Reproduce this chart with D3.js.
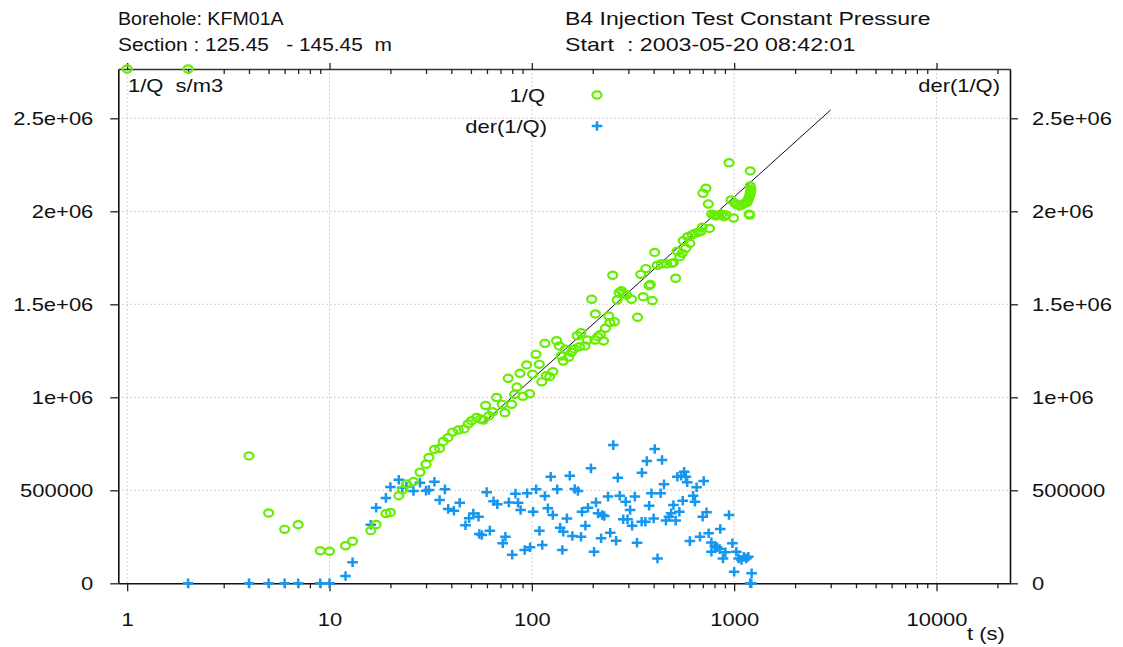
<!DOCTYPE html>
<html>
<head>
<meta charset="utf-8">
<script src="https://cdn.jsdelivr.net/npm/d3@7"></script>
<style>
  body { margin: 0; background: #fff; }
  svg { display: block; }
  text { font-family: "Liberation Sans", Arial, Helvetica, sans-serif; fill: #111; }
</style>
</head>
<body>
<svg id="chart" width="1123" height="647"></svg>
<script>
// ---- 1/Q (s/m3) versus elapsed time t (s) ----
const qTime = [1, 2, 4, 5, 6, 7, 9, 10, 12, 13, 16, 17, 19, 20, 22, 23, 24, 26, 28, 30, 31, 33, 35,
  36.5, 38.5, 40.6, 43.3, 46.3, 48.5, 50.4, 53.3, 55.8, 57.6, 59.1, 61.4, 64, 67, 71.4, 73.6, 76.4,
  79.5, 82.2, 84.4, 87.4, 90.4, 94.3, 97.5, 100.9, 104.8, 108.8, 112, 116, 118, 122.5, 127, 132.6,
  136.6, 139.7, 143, 146.4, 152, 157, 162, 167.6, 172, 175, 183, 188, 197.5, 205, 206, 212, 218,
  226, 231, 240, 243, 251, 256, 264, 270, 277, 284, 294, 311, 333, 345, 355, 366, 380, 385, 394,
  404.6, 417, 437, 464, 491, 500, 514, 523, 539, 553, 560, 577, 589, 604, 620, 642, 665, 685, 696,
  701, 725, 745, 755, 774, 795, 813, 838, 868, 891, 912, 943, 965, 993, 1009, 1036, 1064, 1092,
  1126, 1160, 1170, 1180, 1185, 1190, 1194, 1197, 1200, 1200, 1203, 1207, 1210];
const qValue = [2765000, 2765000, 685000, 378000, 290000, 315000, 175000, 172000, 202000, 226000,
  283000, 316000, 375000, 381000, 471000, 502000, 534000, 547000, 597000, 640000, 677000, 720000,
  725000, 763000, 783000, 813000, 824000, 830000, 857000, 874000, 892000, 883000, 878000, 956000,
  901000, 922000, 999000, 962000, 917000, 1102000, 962000, 1016000, 1055000, 1129000, 1005000,
  1174000, 1019000, 1124000, 1231000, 1177000, 1083000, 1290000, 1116000, 1111000, 1138000,
  1304000, 1276000, 1222000, 1195000, 1258000, 1215000, 1242000, 1260000, 1331000, 1272000,
  1347000, 1276000, 1308000, 1527000, 1308000, 1448000, 1326000, 1338000, 1303000, 1371000,
  1437000, 1401000, 1656000, 1406000, 1523000, 1562000, 1573000, 1559000, 1550000, 1527000,
  1430000, 1661000, 1541000, 1692000, 1600000, 1607000, 1520000, 1779000, 1710000, 1718000,
  1717000, 1720000, 1724000, 1640000, 1786000, 1756000, 1774000, 1842000, 1801000, 1863000,
  1828000, 1874000, 1882000, 1887000, 1892000, 1914000, 2097000, 2124000, 2039000, 1908000,
  1985000, 1980000, 1975000, 1980000, 1985000, 1971000, 1980000, 2261000, 2061000, 1964000,
  2043000, 2035000, 2028000, 2034000, 2043000, 2048000, 2060000, 2070000, 1985000, 2080000,
  1980000, 2090000, 2217000, 2136000, 2100000, 2110000, 2120000];

// ---- derivative der(1/Q) ----
const derTime = [2, 4, 5, 6, 7, 9, 10, 12, 13, 16, 17, 19, 20, 22, 22.9, 24, 26, 28, 30, 31, 33, 35,
  37.2, 38.6, 41.2, 44, 47, 49, 51.4, 54.5, 55, 56.6, 59.8, 62, 64.7, 67.5, 71.8, 74, 77, 80, 83,
  85.5, 88, 92.2, 94.8, 98, 101.5, 105, 109, 112.6, 116, 120, 124, 127, 133.5, 138, 141.5, 143,
  149, 154, 158.6, 163, 169, 175, 177, 184, 189.5, 196, 203, 207.5, 212.5, 220, 222.5, 228, 238,
  244, 252.6, 261, 266, 272, 283, 291, 297, 306, 313, 323, 331, 349, 350, 364, 370, 380, 390, 400,
  405, 418, 433, 440, 450, 460, 476, 488, 501, 514, 524, 536, 547, 557, 566, 577, 586, 604, 627,
  640, 652, 678, 699, 707, 730, 748, 772, 772, 802, 823, 848, 854, 880, 905, 943, 980, 1000, 1025,
  1052, 1087, 1117, 1148, 1175, 1200, 1215, 1220];
const derValue = [0, 0, 0, 0, 0, 0, 0, 39000, 113000, 315000, 406000, 459000, 518000, 557000,
  514000, 519000, 496000, 541000, 498000, 502000, 546000, 448000, 505000, 400000, 390000, 433000,
  312000, 350000, 375000, 358000, 265000, 260000, 490000, 283000, 441000, 425000, 215000, 250000,
  435000, 154000, 482000, 433000, 394000, 179000, 484000, 194000, 385000, 506000, 282000, 206000,
  469000, 403000, 573000, 367000, 505000, 299000, 179000, 277000, 349000, 578000, 254000, 507000,
  496000, 250000, 385000, 310000, 406000, 618000, 170000, 435000, 376000, 242000, 367000, 362000,
  466000, 272000, 743000, 229000, 568000, 471000, 344000, 439000, 344000, 394000, 310000, 466000,
  218000, 331000, 595000, 331000, 657000, 417000, 484000, 349000, 722000, 134000, 484000, 663000,
  532000, 337000, 358000, 376000, 421000, 337000, 573000, 385000, 578000, 444000, 600000, 573000,
  543000, 227000, 471000, 439000, 516000, 250000, 358000, 550000, 382000, 269000, 220000, 170000,
  200000, 194000, 184000, 292000, 134000, 167000, 367000, 215000, 62000, 170000, 134000, 125000,
  143000, 134000, 143000, 0, 0, 54000];

// ---- straight-line fit on the semi-log plot ----
const fitTime = [58, 3000];
const fitValue = [865000, 2545000];

// ---- axes ----
const xDomain = [0.904, 23080];
const yDomain = [0, 2765000];
const xMajorTicks = [1, 10, 100, 1000, 10000];
const xTickLabels = ["1", "10", "100", "1000", "10000"];
const yTicks = [0, 500000, 1000000, 1500000, 2000000, 2500000];
const yTickLabels = ["0", "500000", "1e+06", "1.5e+06", "2e+06", "2.5e+06"];

const headerLines = [
  ["Borehole: KFM01A", "B4 Injection Test Constant Pressure"],
  ["Section : 125.45   - 145.45  m", "Start  : 2003-05-20 08:42:01"]
];

const SX = 1.22;         // horizontal text stretch
const FONT = 18;
const GREEN = "#66ee00";
const BLUE = "#1697ef";

const svg = d3.select("#chart");
const L = 118.3, R = 1010, T = 69, B = 583.3;

const x = d3.scaleLog().domain(xDomain).range([L, R]);
const y = d3.scaleLinear().domain(yDomain).range([B, T]);

function label(px, py, s, anchor, size, sx) {
  return svg.append("text")
    .attr("transform", `translate(${px},${py}) scale(${sx || SX},1)`)
    .attr("text-anchor", anchor || "start")
    .style("font-size", (size || FONT) + "px")
    .style("white-space", "pre")
    .attr("xml:space", "preserve")
    .text(s);
}

// header
label(118, 25, headerLines[0][0], "start", 18, 1.09);
label(565, 25, headerLines[0][1], "start", 18, 1.28);
label(118, 51, headerLines[1][0], "start", 18, 1.16);
label(565, 51, headerLines[1][1], "start", 18, 1.29);

// grid
const grid = svg.append("g").attr("stroke", "#c4c4c4").attr("stroke-width", 1)
  .attr("stroke-dasharray", "1.5,2.5");
grid.selectAll("line.v").data(xMajorTicks).join("line")
  .attr("x1", d => x(d)).attr("x2", d => x(d)).attr("y1", T).attr("y2", B);
grid.selectAll("line.h").data(yTicks.filter(d => d > 0)).join("line")
  .attr("x1", L).attr("x2", R).attr("y1", d => y(d)).attr("y2", d => y(d));

// minor tick values on the log axis
const xAll = [];
for (let e = 0; e <= 4; e++) for (let m = 1; m <= 9; m++) {
  const v = m * Math.pow(10, e);
  if (v >= xDomain[0] && v <= xDomain[1]) xAll.push(v);
}
const xMinor = xAll.filter(v => !xMajorTicks.includes(v));

function styleAxis(g) {
  g.select(".domain").attr("stroke", "#111").attr("stroke-width", 1.6);
  g.selectAll(".tick line").attr("stroke", "#222").attr("stroke-width", 1.3);
}

// bottom axis
const bMinor = svg.append("g").attr("transform", `translate(0,${B})`)
  .call(d3.axisBottom(x).tickValues(xMinor).tickSize(5).tickSizeOuter(0).tickFormat(""));
styleAxis(bMinor);
const bMajor = svg.append("g").attr("transform", `translate(0,${B})`)
  .call(d3.axisBottom(x).tickValues(xMajorTicks).tickSize(8).tickSizeOuter(0)
    .tickFormat((d, i) => xTickLabels[i]));
styleAxis(bMajor);
bMajor.select(".domain").remove();
bMajor.selectAll(".tick text").attr("y", 43).attr("dy", 0)
  .attr("transform", `scale(${SX},1)`).style("font-size", FONT + "px")
  .attr("fill", "#111").attr("font-family", null);

// top axis (ticks inside)
const tMinor = svg.append("g").attr("transform", `translate(0,${T})`)
  .call(d3.axisTop(x).tickValues(xMinor).tickSize(-5).tickSizeOuter(0).tickFormat(""));
styleAxis(tMinor);
tMinor.select(".domain").attr("stroke", "#333");
const tMajor = svg.append("g").attr("transform", `translate(0,${T})`)
  .call(d3.axisTop(x).tickValues(xMajorTicks).tickSize(6).tickSizeOuter(0).tickFormat(""));
styleAxis(tMajor);
tMajor.select(".domain").remove();

// left axis
const la = svg.append("g").attr("transform", `translate(${L},0)`)
  .call(d3.axisLeft(y).tickValues(yTicks).tickSize(8).tickSizeOuter(0)
    .tickFormat((d, i) => yTickLabels[i]));
styleAxis(la);
la.selectAll(".tick text").attr("x", -25 / SX).attr("dy", "0.36em")
  .attr("transform", `scale(${SX},1)`).style("font-size", FONT + "px")
  .attr("fill", "#111").attr("font-family", null);

// right axis
const ra = svg.append("g").attr("transform", `translate(${R},0)`)
  .call(d3.axisRight(y).tickValues(yTicks).tickSize(8).tickSizeOuter(0)
    .tickFormat((d, i) => yTickLabels[i]));
styleAxis(ra);
ra.selectAll(".tick text").attr("x", 22 / SX).attr("dy", "0.36em")
  .attr("transform", `scale(${SX},1)`).style("font-size", FONT + "px")
  .attr("fill", "#111").attr("font-family", null);

// axis captions
label(128, 92, "1/Q  s/m3");
label(1000, 92, "der(1/Q)", "end");
label(967, 640, "t (s)");

// fitted line
const fitPts = fitTime.map((t, i) => [t, fitValue[i]]);
svg.append("path").datum(fitPts)
  .attr("d", d3.line().x(d => x(d[0])).y(d => y(d[1])))
  .attr("stroke", "#111").attr("stroke-width", 1).attr("fill", "none");

// markers
const plus = (cx, cy) => `M${cx - 5.3},${cy}H${cx + 5.3}M${cx},${cy - 4.8}V${cy + 4.8}`;

const derPts = derTime.map((t, i) => [t, derValue[i]]);
svg.append("g").selectAll("path").data(derPts).join("path")
  .attr("d", d => plus(x(d[0]), y(d[1])))
  .attr("stroke", BLUE).attr("stroke-width", 2.5).attr("fill", "none");

const qPts = qTime.map((t, i) => [t, qValue[i]]);
svg.append("g").selectAll("ellipse").data(qPts).join("ellipse")
  .attr("cx", d => x(d[0])).attr("cy", d => y(d[1]))
  .attr("rx", 4.5).attr("ry", 3.6)
  .attr("stroke", GREEN).attr("stroke-width", 2.2).attr("fill", "none");

// legend
label(545, 102, "1/Q", "end");
svg.append("ellipse").attr("cx", 597).attr("cy", 95).attr("rx", 4.5).attr("ry", 3.6)
  .attr("stroke", GREEN).attr("stroke-width", 2.2).attr("fill", "none");
label(547, 133, "der(1/Q)", "end");
svg.append("path").attr("d", plus(597, 126))
  .attr("stroke", BLUE).attr("stroke-width", 2.5).attr("fill", "none");
</script>
</body>
</html>
